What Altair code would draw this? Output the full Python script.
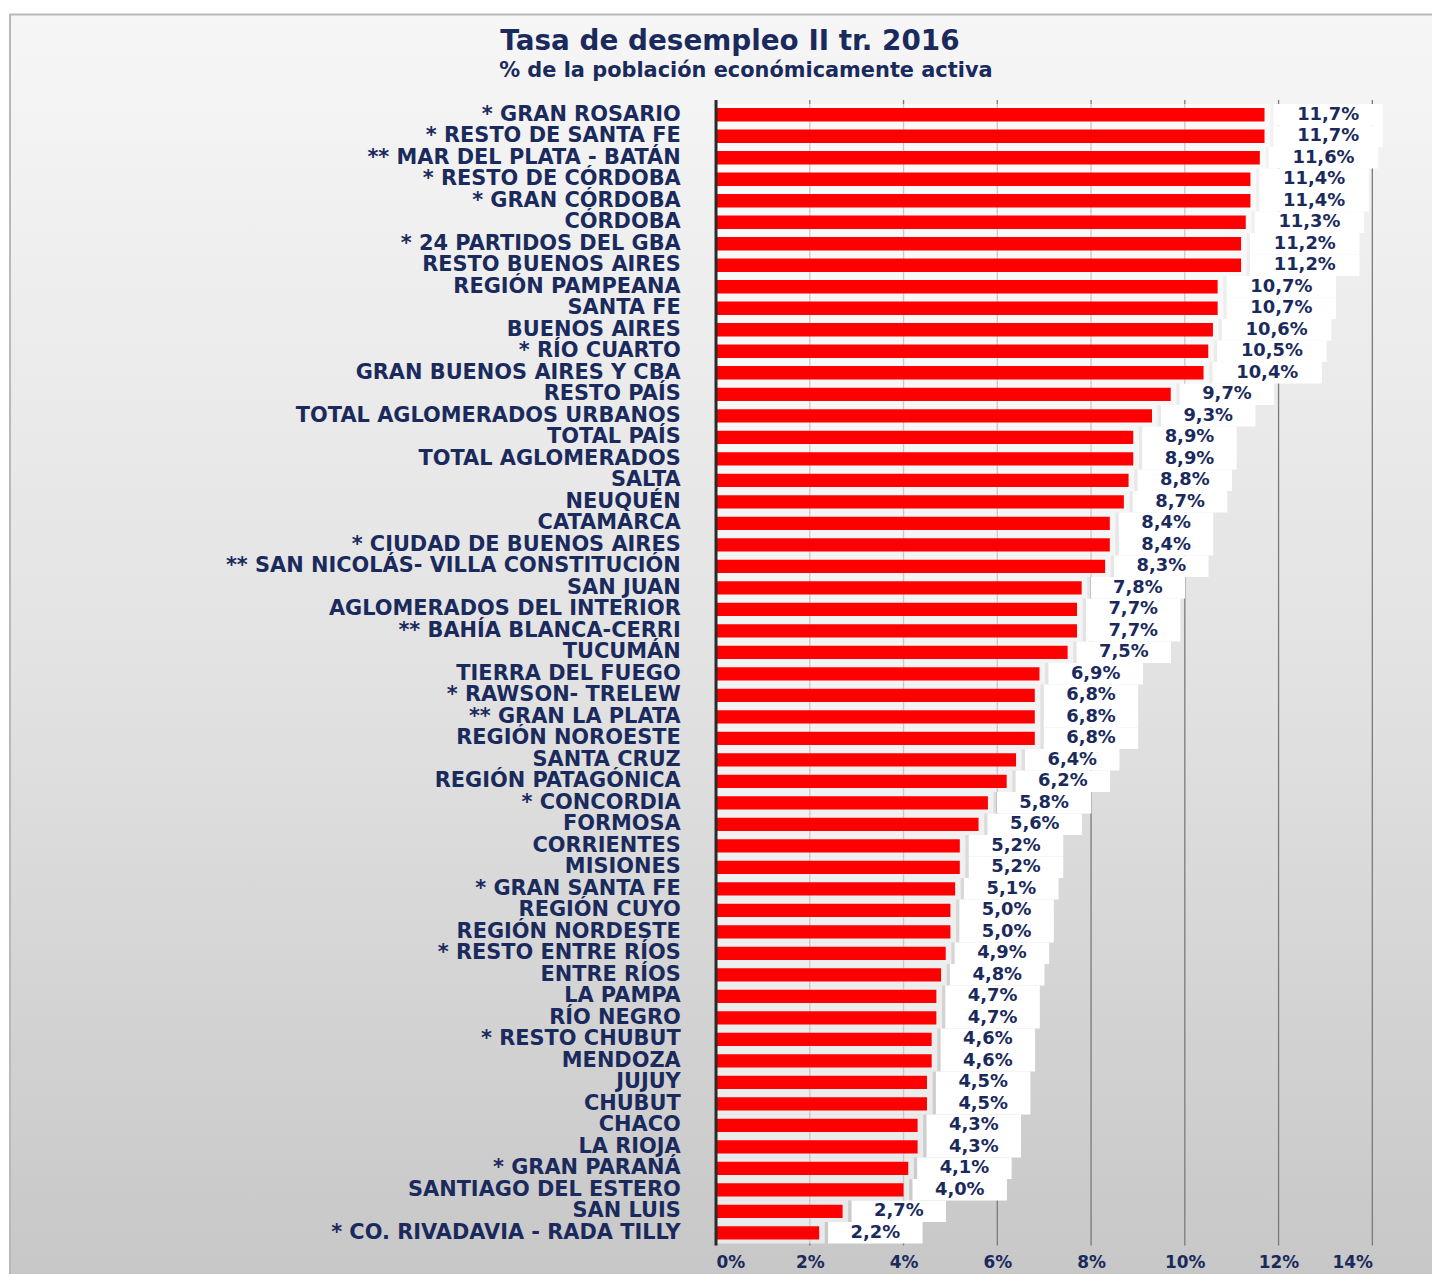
import altair as alt
import pandas as pd

categories = [
    "* GRAN ROSARIO", "* RESTO DE SANTA FE", "** MAR DEL PLATA - BATÁN", "* RESTO DE CÓRDOBA",
    "* GRAN CÓRDOBA", "CÓRDOBA", "* 24 PARTIDOS DEL GBA", "RESTO BUENOS AIRES",
    "REGIÓN PAMPEANA", "SANTA FE", "BUENOS AIRES", "* RÍO CUARTO",
    "GRAN BUENOS AIRES Y CBA", "RESTO PAÍS", "TOTAL AGLOMERADOS URBANOS", "TOTAL PAÍS",
    "TOTAL AGLOMERADOS ", "SALTA", "NEUQUÉN", "CATAMARCA",
    "* CIUDAD DE BUENOS AIRES", "** SAN NICOLÁS- VILLA CONSTITUCIÓN", "SAN JUAN", "AGLOMERADOS DEL INTERIOR ",
    "** BAHÍA BLANCA-CERRI", "TUCUMÁN", "TIERRA DEL FUEGO", "* RAWSON- TRELEW",
    "** GRAN LA PLATA", "REGIÓN NOROESTE", "SANTA CRUZ", "REGIÓN PATAGÓNICA",
    "* CONCORDIA", "FORMOSA", "CORRIENTES", "MISIONES",
    "* GRAN SANTA FE", "REGIÓN CUYO", "REGIÓN NORDESTE", "* RESTO ENTRE RÍOS",
    "ENTRE RÍOS", "LA PAMPA", "RÍO NEGRO", "* RESTO CHUBUT",
    "MENDOZA", "JUJUY", "CHUBUT", "CHACO",
    "LA RIOJA", "* GRAN PARANÁ", "SANTIAGO DEL ESTERO", "SAN LUIS",
    "* CO. RIVADAVIA - RADA TILLY",
]
values = [
    11.7, 11.7, 11.6, 11.4,
    11.4, 11.3, 11.2, 11.2,
    10.7, 10.7, 10.6, 10.5,
    10.4, 9.7, 9.3, 8.9,
    8.9, 8.8, 8.7, 8.4,
    8.4, 8.3, 7.8, 7.7,
    7.7, 7.5, 6.9, 6.8,
    6.8, 6.8, 6.4, 6.2,
    5.8, 5.6, 5.2, 5.2,
    5.1, 5.0, 5.0, 4.9,
    4.8, 4.7, 4.7, 4.6,
    4.6, 4.5, 4.5, 4.3,
    4.3, 4.1, 4.0, 2.7,
    2.2,
]
x_ticks = [0, 2, 4, 6, 8, 10, 12, 14]
title_text = "Tasa de desempleo II tr. 2016"
subtitle_text = "% de la población  económicamente activa"

labels = [f"{v:.1f}".replace(".", ",") + "%" for v in values]
df = pd.DataFrame({"cat": categories, "v": values, "label": labels})

W, H = 660, 1146
PX = W / 14.0
NAVY = "#1b2a5c"
FONT = "DejaVu Sans"

xscale = alt.Scale(domain=[0, 14], nice=False, zero=True)
xaxis = alt.Axis(values=x_ticks, labelExpr="datum.value + '%'", grid=False, domain=False,
                 ticks=False, tickSize=0, title=None, labelFont=FONT, labelFontSize=17,
                 labelFontWeight="bold", labelColor=NAVY, labelPadding=11, zindex=1)
yscale = alt.Scale(domain=categories, paddingInner=0, paddingOuter=0)
yaxis = alt.Axis(title=None, domain=False, ticks=False, tickSize=0, labelFont=FONT,
                 labelFontSize=21, labelFontWeight="bold", labelColor=NAVY,
                 labelPadding=36, labelLimit=0, zindex=1)
Y = alt.Y("cat:N", sort=categories, scale=yscale, axis=yaxis)

base = alt.Chart(df)

bg = alt.Chart(pd.DataFrame({"a": [0]})).mark_rect(
    color=alt.Gradient(gradient="linear", x1=0, x2=0, y1=0, y2=1,
                       stops=[alt.GradientStop(color="#f6f6f6", offset=0),
                              alt.GradientStop(color="#e2e2e2", offset=0.5),
                              alt.GradientStop(color="#c4c4c4", offset=1)]),
    stroke="#b8b8b8", strokeWidth=2,
).encode(x=alt.value(-710), x2=alt.value(800), y=alt.value(-90), y2=alt.value(1250))

grid = alt.Chart(pd.DataFrame({"t": x_ticks[1:]})).mark_rule(color="#7a7a7a", strokeWidth=1.3).encode(
    x=alt.X("t:Q", scale=xscale, axis=xaxis), y=alt.value(-4), y2=alt.value(H + 2))

band = base.transform_calculate(vb="datum.v + 0.12").mark_bar(
    color="#ffffff", opacity=0.6, height={"band": 1}).encode(
    x=alt.X("vb:Q", scale=xscale, axis=xaxis), y=Y)

bars = base.mark_bar(color="#ff0000", height={"band": 0.62}).encode(
    x=alt.X("v:Q", scale=xscale, axis=xaxis), y=Y)

box = base.transform_calculate(
    bl=f"datum.v + 9/{PX}",
    br=f"datum.v + (9 + 35 + 15*length(datum.label))/{PX}",
).mark_bar(color="#ffffff", height={"band": 1}).encode(
    x=alt.X("bl:Q", scale=xscale, axis=xaxis), x2="br:Q", y=Y)

text = base.transform_calculate(
    bc=f"datum.v + (9 + (35 + 15*length(datum.label))/2)/{PX}",
).mark_text(font=FONT, fontSize=18, fontWeight="bold", color=NAVY, align="center",
            baseline="middle").encode(
    x=alt.X("bc:Q", scale=xscale, axis=xaxis), y=Y, text="label:N")

axisline = alt.Chart(pd.DataFrame({"z": [0]})).mark_rule(color="#2a2a2a", strokeWidth=3).encode(
    x=alt.X("z:Q", scale=xscale, axis=xaxis), y=alt.value(-4), y2=alt.value(H + 2))

t1 = alt.Chart(pd.DataFrame({"s": [title_text]})).mark_text(
    font=FONT, fontSize=28, fontWeight="bold", color=NAVY, align="center", baseline="middle"
).encode(x=alt.value(14), y=alt.value(-62), text="s:N")
t2 = alt.Chart(pd.DataFrame({"s": [subtitle_text]})).mark_text(
    font=FONT, fontSize=21, fontWeight="bold", color=NAVY, align="center", baseline="middle"
).encode(x=alt.value(30), y=alt.value(-33), text="s:N")

chart = alt.layer(bg, grid, band, bars, box, text, axisline, t1, t2).properties(
    width=W, height=H,
    autosize=alt.AutoSizeParams(type="none"),
    padding={"left": 712, "top": 93, "right": 60, "bottom": 27},
    background="#ffffff",
).configure_view(stroke=None)

chart.save("out.html", embed_options={"renderer": "svg", "actions": False})
